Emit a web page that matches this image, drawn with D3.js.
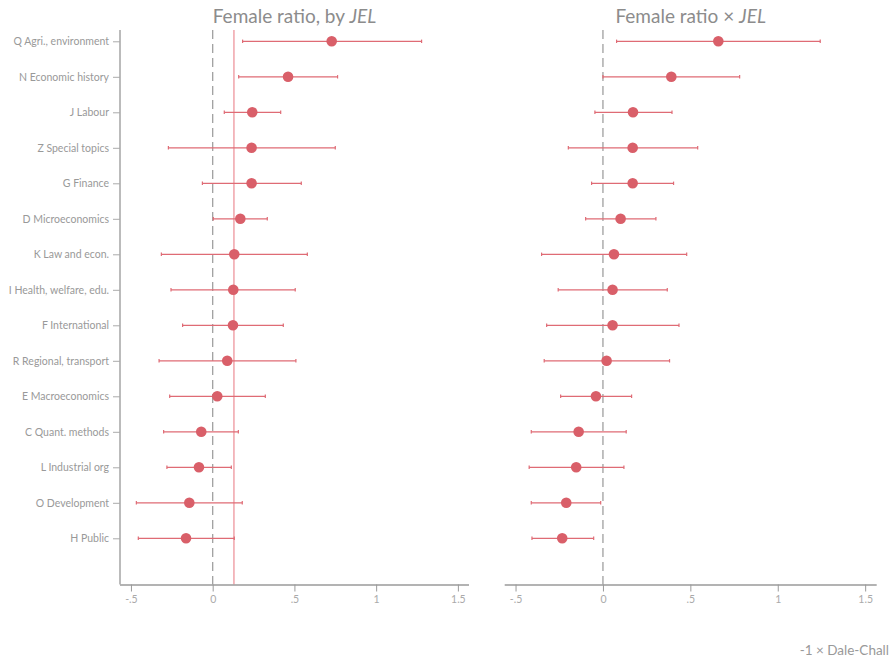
<!DOCTYPE html>
<html><head><meta charset="utf-8">
<script src="https://cdn.jsdelivr.net/npm/d3@7"></script>
<style>body{margin:0;background:#fff}svg{display:block}text{font-family:Lato,"Open Sans",sans-serif}</style>
</head><body><svg id="c" width="892" height="664"></svg>
<script>
const categories = ["Q Agri., environment","N Economic history","J Labour","Z Special topics","G Finance","D Microeconomics","K Law and econ.","I Health, welfare, edu.","F International","R Regional, transport","E Macroeconomics","C Quant. methods","L Industrial org","O Development","H Public"];
const leftEst = [0.728,0.461,0.242,0.238,0.238,0.169,0.132,0.126,0.124,0.089,0.028,-0.070,-0.084,-0.143,-0.163];
const leftLo  = [0.183,0.159,0.071,-0.271,-0.063,0.004,-0.314,-0.255,-0.184,-0.328,-0.263,-0.300,-0.280,-0.467,-0.455];
const leftHi  = [1.278,0.764,0.416,0.750,0.542,0.334,0.579,0.505,0.432,0.509,0.322,0.157,0.114,0.181,0.132];
const leftMean = 0.130;
const rightEst = [0.660,0.391,0.172,0.170,0.170,0.101,0.063,0.055,0.055,0.021,-0.040,-0.139,-0.153,-0.210,-0.233];
const rightLo  = [0.078,0.000,-0.046,-0.198,-0.065,-0.099,-0.351,-0.256,-0.322,-0.336,-0.242,-0.410,-0.422,-0.410,-0.406];
const rightHi  = [1.243,0.782,0.395,0.542,0.404,0.303,0.479,0.368,0.435,0.381,0.164,0.133,0.120,-0.013,-0.053];
const xTicks = [-0.5,0,0.5,1,1.5];
const xTickLabels = ["-.5","0",".5","1","1.5"];
const titles = ["Female ratio, by ", "Female ratio \u00d7 "];
const xTitle = "-1 \u00d7 Dale-Chall";

const svg = d3.select("#c");
const red = "#d95f69", redLine = "#df6b75", meanCol = "#f0a3aa", gray = "#9a9a9a";
const yTop = 30, yBot = 584.5;
const y = d3.scalePoint().domain(categories).range([41.3, 538.3]);

const panels = [
  {x: d3.scaleLinear().domain([-0.567,1.568]).range([120,469]), est:leftEst, lo:leftLo, hi:leftHi, mean:leftMean, yaxis:true, title:titles[0]},
  {x: d3.scaleLinear().domain([-0.562,1.566]).range([504.7,876.7]), est:rightEst, lo:rightLo, hi:rightHi, mean:null, yaxis:false, title:titles[1]}
];

panels.forEach(p => {
  const g = svg.append("g");
  const x = p.x;
  g.append("line").attr("x1",x(0)).attr("x2",x(0)).attr("y1",yTop).attr("y2",yBot)
    .attr("stroke","#a0a0a0").attr("stroke-width",1.3).attr("stroke-dasharray","9,5");
  if (p.mean !== null) {
    g.append("line").attr("x1",x(p.mean)).attr("x2",x(p.mean)).attr("y1",yTop).attr("y2",yBot)
      .attr("stroke",meanCol).attr("stroke-width",1.5);
  }
  const xa = g.append("g").attr("transform",`translate(0,${yBot})`)
    .call(d3.axisBottom(x).tickValues(xTicks).tickFormat((d,i)=>xTickLabels[i]).tickSize(7).tickPadding(4));
  xa.select(".domain").attr("stroke",gray).attr("stroke-width",1.3).attr("d",`M${x.range()[0]},0.5H${x.range()[1]}`);
  xa.selectAll(".tick line").attr("stroke",gray);
  xa.selectAll(".tick text").attr("fill","#aaa").attr("font-size",10.5).attr("font-family","Lato");
  if (p.yaxis) {
    const ya = g.append("g").attr("transform",`translate(${x.range()[0]},0)`)
      .call(d3.axisLeft(y).tickSize(7).tickPadding(4));
    ya.select(".domain").attr("stroke","#aaa").attr("stroke-width",1.6).attr("d",`M0,${yTop}V${yBot}`);
    ya.selectAll(".tick line").attr("stroke","#aaa");
    ya.selectAll(".tick text").attr("fill","#999").attr("font-size",10.5).attr("font-family","Lato");
  }
  categories.forEach((c,i) => {
    const yy = y(c);
    g.append("line").attr("x1",x(p.lo[i])).attr("x2",x(p.hi[i])).attr("y1",yy).attr("y2",yy)
      .attr("stroke",redLine).attr("stroke-width",1.3);
    [p.lo[i],p.hi[i]].forEach(v => g.append("line").attr("x1",x(v)).attr("x2",x(v)).attr("y1",yy-1.7).attr("y2",yy+1.7)
      .attr("stroke",redLine).attr("stroke-width",1.2));
    g.append("circle").attr("cx",x(p.est[i])).attr("cy",yy).attr("r",5.3).attr("fill",red);
  });
  const cx = (x.range()[0]+x.range()[1])/2;
  const t = g.append("text").attr("x",cx).attr("y",23).attr("text-anchor","middle")
    .attr("fill","#8c8c8c").attr("font-size",19).text(p.title);
  t.append("tspan").attr("font-style","italic").text("JEL");
});
svg.append("text").attr("x",889).attr("y",655).attr("text-anchor","end").attr("fill","#999")
  .attr("font-size",13.5).text(xTitle);
</script></body></html>
